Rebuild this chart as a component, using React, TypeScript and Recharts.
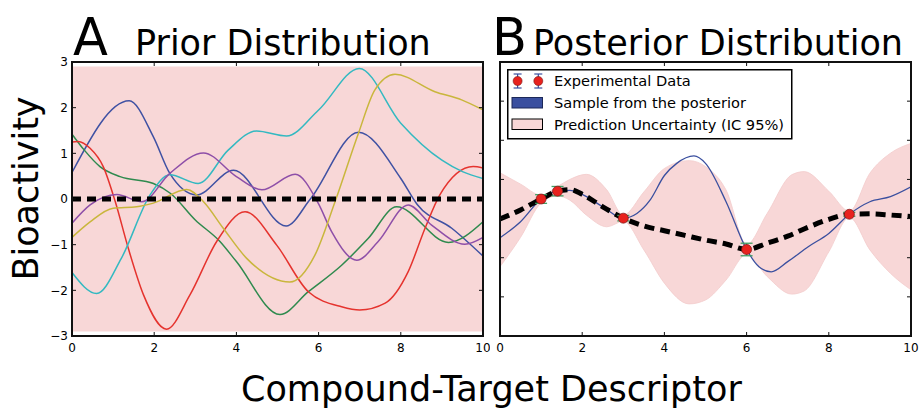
import React from 'react'
import { ComposedChart, Line, Area, Scatter, ErrorBar, XAxis, YAxis, Legend } from 'recharts'

const FONT = 'DejaVu Sans'

const xTicks = [0, 2, 4, 6, 8, 10]
const priorYTicks = [-3, -2, -1, 0, 1, 2, 3]
const postYTicks = [-3.5, -2.5, -1.5, -0.5, 0.5, 1.5, 2.5, 3.5]

// prior: 95% band and zero mean
const priorBandX = [0, 10]
const priorBandLow = [-2.9, -2.9]
const priorBandHigh = [2.9, 2.9]
const priorMeanX = [0, 10]
const priorMeanY = [0, 0]

// prior samples, knots as [x, y]
const priorBlue = [[0, 0.58], [1.39, 2.15], [1.98, 1.36], [2.38, 0.56], [3.03, 0.09], [3.93, 0.63], [5.21, -0.59], [5.8, 0], [6.97, 1.46], [8.0, 0.45], [8.4, -0.12], [9.24, -0.64], [10, -1.25]]
const priorGreen = [[0, 1.42], [0.3, 1.07], [0.68, 0.71], [1.17, 0.49], [1.98, 0.34], [2.4, 0.12], [3, -0.46], [3.6, -0.93], [4.0, -1.37], [5.06, -2.53], [5.75, -2.03], [6.56, -1.45], [7.21, -0.86], [7.9, -0.17], [9.16, -0.95], [10, -0.5]]
const priorRed = [[0, 1.25], [0.15, 1.26], [0.44, 1.11], [0.76, 0.71], [1.05, -0.05], [1.37, -1.08], [1.74, -2.1], [2.3, -2.85], [2.87, -2.1], [3.52, -0.93], [4.21, -0.28], [4.98, -1.01], [5.75, -2.03], [6.56, -2.36], [7.0, -2.43], [7.62, -2.28], [8.18, -1.59], [8.59, -0.64], [8.95, 0.09], [9.76, 0.71], [10, 0.68]]
const priorCyan = [[0, -1.61], [0.6, -2.07], [1.2, -1.3], [1.9, 0.09], [2.38, 0.53], [3.07, 0.34], [3.8, 1.07], [4.49, 1.49], [5.22, 1.38], [6, 1.95], [6.99, 2.86], [8, 1.66], [9, 0.85], [9.5, 0.6], [10, 0.45]]
const priorPurple = [[0, -0.53], [0.44, -0.13], [1.09, 0.1], [1.7, -0.06], [2.38, 0.56], [3.2, 1.01], [4.0, 0.49], [4.62, 0.2], [5.43, 0.54], [5.99, -0.09], [6.32, -0.72], [6.93, -1.34], [7.45, -0.93], [8.18, -0.13], [8.75, -0.57], [9.56, -0.99], [10, -0.84]]
const priorYellow = [[0, -0.84], [0.44, -0.5], [1.0, -0.2], [1.57, -0.17], [1.98, -0.09], [2.79, 0.21], [3.2, -0.06], [3.68, -0.64], [4.25, -1.3], [5.3, -1.82], [5.91, -1.23], [6.4, -0.06], [6.97, 1.44], [7.37, 2.39], [7.86, 2.73], [8.83, 2.35], [9.48, 2.17], [10, 1.95]]

// posterior
const postBandX = [0, 0.5, 1, 1.4, 1.7, 2.1, 2.6, 3, 3.5, 4, 4.6, 5, 5.5, 6, 6.5, 7.1, 7.4, 8, 8.5, 9, 9.5, 10]
const postBandLow = [-1.73, -0.98, -0.1, 0.08, -0.03, -0.41, -0.71, -0.57, -1.3, -2.15, -2.68, -2.58, -2.07, -1.42, -1.98, -2.43, -2.35, -1.35, -0.47, -1.3, -1.9, -2.32]
const postBandHigh = [0.67, 0.38, 0.1, 0.32, 0.5, 0.63, 0.23, -0.41, 0.18, 0.78, 0.98, 0.83, 0.23, -1.16, -0.37, 0.62, 0.7, 0.2, -0.31, 0.66, 1.17, 1.42]

const postMeanX = [0, 0.5, 1, 1.4, 1.7, 2, 2.5, 3, 3.5, 4, 4.5, 5, 5.5, 6, 6.5, 7, 7.5, 8, 8.5, 9, 9.5, 10]
const postMeanY = [-0.51, -0.28, 0, 0.2, 0.24, 0.12, -0.2, -0.49, -0.69, -0.81, -0.93, -1.05, -1.15, -1.29, -1.13, -0.95, -0.72, -0.52, -0.39, -0.38, -0.41, -0.45]

const sampleX = [0, 0.5, 1, 1.4, 1.7, 2, 2.5, 3, 3.33, 3.65, 4, 4.3, 4.72, 5, 5.5, 6, 6.3, 6.6, 7, 7.5, 8, 8.5, 9, 9.5, 10]
const sampleY = [-0.99, -0.58, 0, 0.2, 0.22, 0.12, -0.2, -0.49, -0.37, -0.03, 0.6, 0.91, 1.1, 0.91, -0.07, -1.29, -1.73, -1.86, -1.6, -1.22, -0.88, -0.39, -0.07, 0.06, 0.31]

const expX = [1, 1.4, 3, 6, 8.5]
const expY = [0, 0.2, -0.49, -1.29, -0.39]
const expErr = [0.11, 0.12, 0.07, 0.16, 0.05]

const pts = (p: number[][]) => p.map(([x, y]) => ({ x, y }))
const band = (xs: number[], lo: number[], hi: number[]) => xs.map((x, i) => ({ x, band: [lo[i], hi[i]] }))
const line = (xs: number[], ys: number[]) => xs.map((x, i) => ({ x, y: ys[i] }))

const priorSeries = [
  { name: 'blue', color: '#3f51a3', data: priorBlue },
  { name: 'green', color: '#2f8a4e', data: priorGreen },
  { name: 'red', color: '#e5332e', data: priorRed },
  { name: 'cyan', color: '#33b9c1', data: priorCyan },
  { name: 'purple', color: '#8e4fa8', data: priorPurple },
  { name: 'yellow', color: '#c9b63c', data: priorYellow },
]

const expData = expX.map((x, i) => ({ x, y: expY[i], err: expErr[i] }))

const PINK = '#f8d7d7'
const BLUE = '#3a4f9f'
const INK = '#111'
const fmt = (v: number) => String(v).replace('-', '\u2212')

// plot boxes in each chart's own coordinates
type Box = { left: number; right: number; top: number; bottom: number }
const priorBox: Box = { left: 72, right: 483, top: 62, bottom: 336 }
const postBox: Box = { left: 40, right: 451, top: 62, bottom: 336 }

// matplotlib-style ticks: inward marks on both opposite sides
const xTick = (box: Box, labels: boolean) => (p: any) => (
  <g>
    <line x1={p.x} x2={p.x} y1={box.top} y2={box.top + 4} stroke={INK} />
    <line x1={p.x} x2={p.x} y1={box.bottom - 4} y2={box.bottom} stroke={INK} />
    {labels && (
      <text x={p.x} y={p.y} dy="0.71em" textAnchor="middle" fontSize={12} fontFamily={FONT} fill="#000">
        {fmt(p.payload.value)}
      </text>
    )}
  </g>
)
const yTick = (box: Box, labels: boolean) => (p: any) => (
  <g>
    <line x1={box.left} x2={box.left + 4} y1={p.y} y2={p.y} stroke={INK} />
    <line x1={box.right - 4} x2={box.right} y1={p.y} y2={p.y} stroke={INK} />
    {labels && (
      <text x={p.x} y={p.y} dy="0.36em" textAnchor="end" fontSize={12} fontFamily={FONT} fill="#000">
        {fmt(p.payload.value)}
      </text>
    )}
  </g>
)

function PosteriorLegend() {
  return (
    <svg width={286} height={71} style={{ display: 'block', fontFamily: FONT }}>
      <rect x={0.75} y={0.75} width={284} height={69} fill="#fff" stroke="#000" strokeWidth={1.5} />
      {[10.6, 31.3].map((cx) => (
        <g key={cx}>
          <line x1={cx} x2={cx} y1={5} y2={19} stroke={BLUE} strokeWidth={1.2} />
          <line x1={cx - 4} x2={cx + 4} y1={5} y2={5} stroke={BLUE} strokeWidth={1.2} />
          <line x1={cx - 4} x2={cx + 4} y1={19} y2={19} stroke={BLUE} strokeWidth={1.2} />
          <circle cx={cx} cy={12} r={4.5} fill="#e8221e" stroke="#7a1a1a" strokeWidth={0.6} />
        </g>
      ))}
      <text x={47} y={17} fontSize={14.6}>Experimental Data</text>
      <rect x={5} y={28.5} width={30.5} height={10.5} fill={BLUE} stroke="#1c2858" strokeWidth={1} />
      <text x={47} y={39} fontSize={14.6}>Sample from the posterior</text>
      <rect x={5} y={50} width={30.5} height={10.5} fill={PINK} stroke="#000" strokeWidth={1} />
      <text x={47} y={60.5} fontSize={14.6}>Prediction Uncertainty (IC 95%)</text>
    </svg>
  )
}

function PriorChart() {
  return (
    <ComposedChart width={490} height={408} margin={{ top: 62, right: 7, bottom: 42, left: 32 }}>
      <XAxis type="number" dataKey="x" domain={[0, 10]} ticks={xTicks} interval={0} allowDataOverflow height={30}
        tickSize={-4} tickMargin={11} tick={xTick(priorBox, true)} axisLine={false} tickLine={false} />
      <YAxis type="number" domain={[-3, 3]} ticks={priorYTicks} interval={0} allowDataOverflow width={40}
        tickSize={-4} tickMargin={8} tick={yTick(priorBox, true)} axisLine={false} tickLine={false} />
      <Area data={band(priorBandX, priorBandLow, priorBandHigh)} dataKey="band" type="linear" fill={PINK}
        fillOpacity={1} stroke="none" isAnimationActive={false} />
      {priorSeries.map((s) => (
        <Line key={s.name} data={pts(s.data)} dataKey="y" type="monotone" stroke={s.color} strokeWidth={1.5}
          dot={false} isAnimationActive={false} />
      ))}
      <Line data={line(priorMeanX, priorMeanY)} dataKey="y" type="linear" stroke="#000" strokeWidth={5}
        strokeDasharray="9 6" dot={false} isAnimationActive={false} />
    </ComposedChart>
  )
}

function PosteriorChart() {
  return (
    <ComposedChart width={459} height={408} margin={{ top: 62, right: 8, bottom: 42, left: 10 }}>
      <XAxis type="number" dataKey="x" domain={[0, 10]} ticks={xTicks} interval={0} allowDataOverflow height={30}
        tickSize={-4} tickMargin={11} tick={xTick(postBox, true)} axisLine={false} tickLine={false} />
      <YAxis type="number" domain={[-3.5, 3.5]} ticks={postYTicks} interval={0} allowDataOverflow width={30}
        tickSize={-4} tick={yTick(postBox, false)} axisLine={false} tickLine={false} />
      <Area data={band(postBandX, postBandLow, postBandHigh)} dataKey="band" type="monotone" fill={PINK}
        fillOpacity={1} stroke="#f3cccc" strokeWidth={0.8} isAnimationActive={false} />
      <Line data={line(sampleX, sampleY)} dataKey="y" type="monotone" stroke={BLUE} strokeWidth={1.3}
        dot={false} isAnimationActive={false} />
      <Line data={line(postMeanX, postMeanY)} dataKey="y" type="monotone" stroke="#000" strokeWidth={5}
        strokeDasharray="10 6" dot={false} isAnimationActive={false} />
      <Scatter data={expData} dataKey="y" isAnimationActive={false}
        shape={(p: any) => <circle cx={p.cx} cy={p.cy} r={5} fill="#e8221e" stroke="#7a1a1a" strokeWidth={0.7} />}>
        <ErrorBar dataKey="err" direction="y" width={6} stroke="#3f9e63" strokeWidth={1.3} isAnimationActive={false} />
      </Scatter>
      <Legend layout="vertical" align="center" verticalAlign="middle" content={() => <PosteriorLegend />}
        wrapperStyle={{ position: 'absolute', left: 47, top: 68.5, width: 286, height: 71 }} />
    </ComposedChart>
  )
}

export default function App() {
  return (
    <div style={{ position: 'absolute', left: 0, top: 0, width: 919, height: 408, background: '#fff', overflow: 'hidden' }}>
      <svg width={919} height={408} style={{ position: 'absolute', left: 0, top: 0, fontFamily: FONT }}>
        <text x={73} y={55} fontSize={51}>A</text>
        <text x={135} y={55} fontSize={35}>Prior Distribution</text>
        <text x={492} y={55} fontSize={51}>B</text>
        <text x={533} y={55} fontSize={35}>Posterior Distribution</text>
        <text x={241} y={401} fontSize={35}>Compound-Target Descriptor</text>
        <text x={38} y={188.5} fontSize={35} textAnchor="middle" transform="rotate(-90 38 188.5)">Bioactivity</text>
      </svg>
      <div style={{ position: 'absolute', left: 0, top: 0 }}>
        <PriorChart />
      </div>
      <div style={{ position: 'absolute', left: 460, top: 0 }}>
        <PosteriorChart />
      </div>
      {/* axes frames drawn over both panels */}
      <svg width={919} height={408} style={{ position: 'absolute', left: 0, top: 0, pointerEvents: 'none' }}>
        <rect x={priorBox.left} y={priorBox.top} width={priorBox.right - priorBox.left} height={priorBox.bottom - priorBox.top}
          fill="none" stroke={INK} strokeWidth={2} />
        <rect x={460 + postBox.left} y={postBox.top} width={postBox.right - postBox.left} height={postBox.bottom - postBox.top}
          fill="none" stroke={INK} strokeWidth={2} />
      </svg>
    </div>
  )
}
